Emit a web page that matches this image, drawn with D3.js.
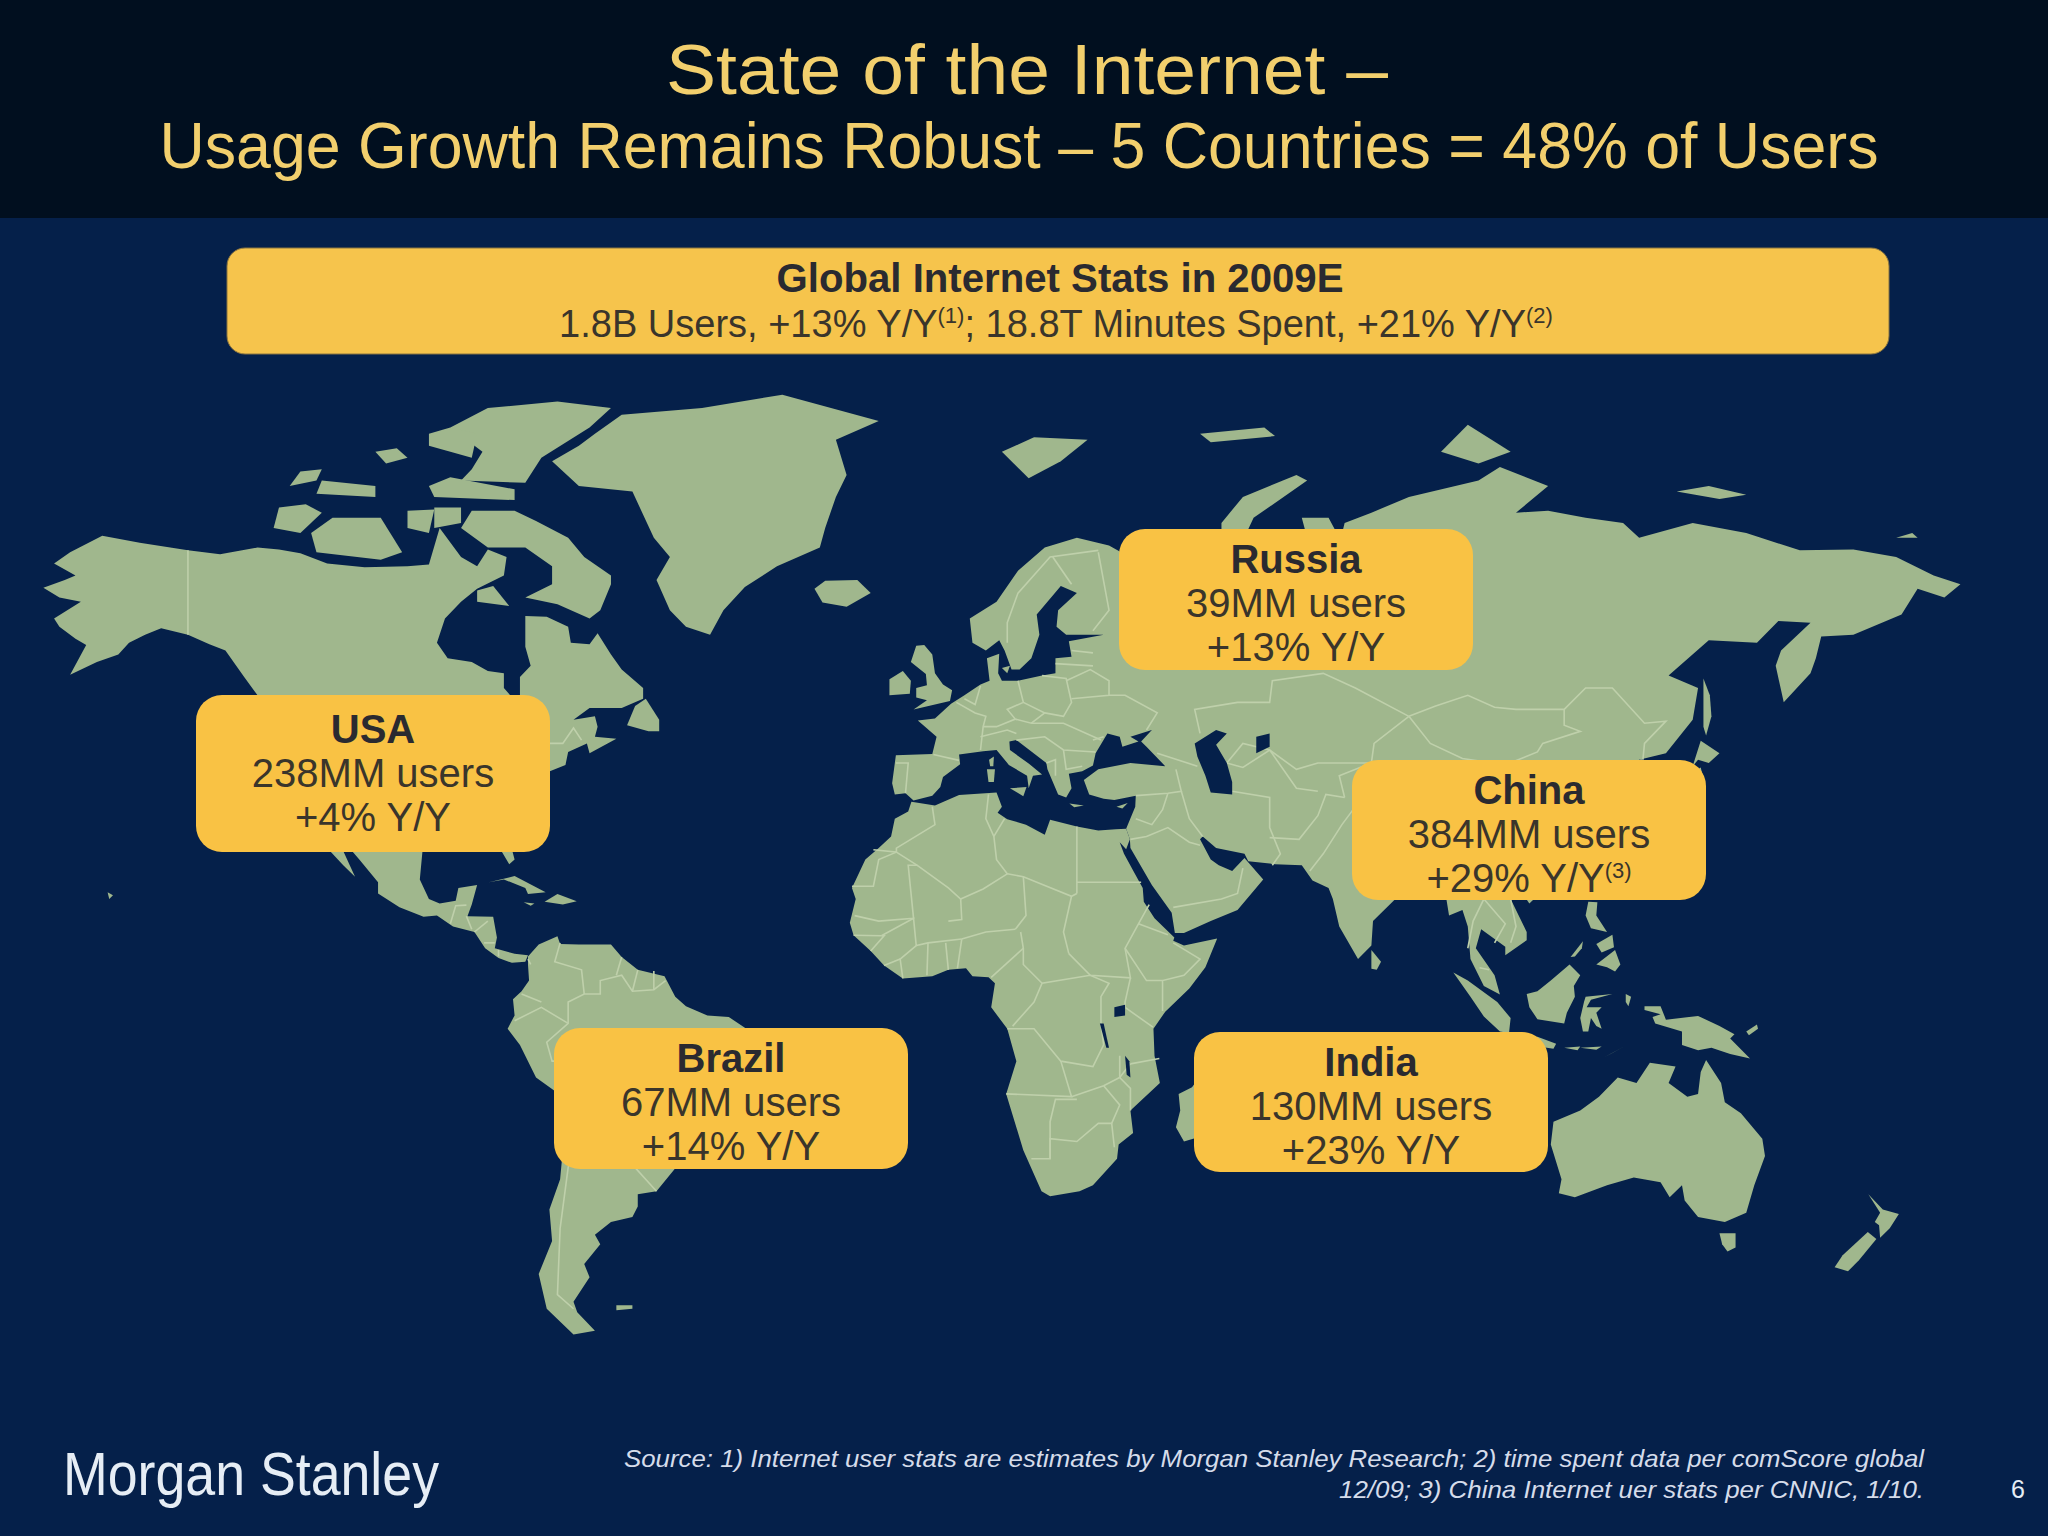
<!DOCTYPE html>
<html>
<head>
<meta charset="utf-8">
<script src="https://cdn.jsdelivr.net/npm/d3@7"></script>
<style>
html, body { margin: 0; padding: 0; background: #05204a; }
svg { display: block; }
text { font-family: "Liberation Sans", Arial, sans-serif; }
</style>
</head>
<body>
<svg id="chart" width="2048" height="1536"></svg>
<script>
// callout values
var boxNames = ["USA", "Russia", "China", "Brazil", "India"];
var boxUsers = ["238MM users", "39MM users", "384MM users", "67MM users", "130MM users"];
var boxGrowth = ["+4% Y/Y", "+13% Y/Y", "+29% Y/Y", "+14% Y/Y", "+23% Y/Y"];
var boxNotes = ["", "", "(3)", "", ""];

// coastlines, lon/lat
var northAmerica = [[-168,65.6],[-164,66.5],[-162,67],[-166,68.3],[-163,69.5],[-157,71.2],[-150,70.5],[-141,69.7],[-135,69.3],[-128,70],[-124,69.8],[-120,69.4],[-115,68.3],[-108,67.9],[-100,68],[-96,68.2],[-94,72],[-90,69],[-87,68],[-85,69.8],[-81.5,69],[-82,67],[-87,65.5],[-90,64],[-93,62],[-94.5,59],[-92.5,57],[-88,56.5],[-85,55.3],[-82,55],[-82,53],[-80,51.3],[-79,52],[-79,54.5],[-77,56],[-78,58.5],[-78,62.3],[-74,62.2],[-70,61],[-69.5,59],[-66,58.8],[-64.5,60.2],[-62,57.5],[-60,55.5],[-56,53],[-56,51.5],[-60,50.2],[-66,50.2],[-69,48.5],[-65,49],[-64.5,47.5],[-65,46],[-61,45.7],[-66,43.5],[-66.5,45],[-70,43.7],[-70.5,41.7],[-74,40.5],[-75.5,38],[-76,35],[-78,33.8],[-81,32],[-81,29.5],[-80,26],[-81,25.2],[-82.8,28],[-84,30],[-88,30.3],[-90,29.2],[-94,29.5],[-97.2,27.5],[-97.7,22.5],[-96,19],[-94,18.2],[-91,18.7],[-90.5,21],[-87,21.5],[-88,18],[-88.8,15.9],[-84,15.8],[-83.3,12],[-83.7,10],[-80,9],[-77.5,8.7],[-78,7.5],[-80.5,7.3],[-83,8.2],[-85.5,10],[-87.5,13],[-91.5,14],[-94.5,16],[-97,15.8],[-101.5,17.5],[-105.5,20],[-105.5,22],[-109,26],[-112.7,30],[-114.7,31.5],[-112,27.5],[-109.8,23],[-112,25],[-115,28],[-117.2,32.5],[-120.5,34.5],[-122.5,37.5],[-124.2,40.5],[-124,46],[-124.7,48.4],[-122.5,48.5],[-125,50],[-128,52],[-130.5,54.5],[-134,58],[-137,58.8],[-141,60],[-146,60.8],[-149,60],[-152,59],[-154,57.5],[-158,56.5],[-163,54.8],[-160,58.7],[-162,59.5],[-165,61],[-166,62],[-161,64],[-165,64.5]];
var canadaIslands = [
  [[-62,66],[-64,63],[-66,62],[-72,63.7],[-78,64.5],[-73,66],[-73,68],[-78,70],[-85,70],[-90,72],[-88,73.7],[-80,73.7],[-76,72.7],[-70,71],[-67,69],[-62,67]],
  [[-117,69.5],[-105,68.7],[-101,69.5],[-105,73],[-114,73],[-118,71.5]],
  [[-125,72],[-120,71.5],[-116,73.5],[-119,74.3],[-124,74]],
  [[-117,75.3],[-106,75],[-106,76],[-116,76.5]],
  [[-90,76.5],[-78,76.3],[-75,78.5],[-66,81],[-62,82.5],[-72,83],[-85,82.5],[-92,81],[-86,79],[-88,77.5]],
  [[-95,75],[-80,74.7],[-80,75.7],[-92,76.8],[-96,76]],
  [[-96,79.5],[-88,78.5],[-87,80.5],[-92,81],[-96,80.5]],
  [[-87,64],[-81,63.5],[-84,65.8],[-87,65.3]],
  [[-100,72],[-96,71.5],[-95,73.8],[-100,73.7]],
  [[-95,72],[-90,72.5],[-90,74],[-95,74]],
  [[-122,76],[-117,76.5],[-116,77.5],[-120,77.3]],
  [[-104,78],[-100,78.5],[-102,79.3],[-106,79]],
  [[-59,47.7],[-55,46.8],[-53,46.8],[-53,48.5],[-55.5,51.5],[-57.5,50.5]],
  [[-84.8,22],[-80,23.1],[-74.2,20.2],[-77.5,19.9],[-78,21],[-82,22.5]],
  [[-74.4,18.5],[-72,19.9],[-68.4,18.6],[-71,18]],
  [[-78.3,18.4],[-76.3,18.2],[-77,17.8]],
  [[-156,20.2],[-155,19.7],[-155.7,19]]
];
var greenland = [[-73,78.2],[-68,76],[-58,75.5],[-54,71],[-51,69],[-53.5,66.5],[-51,63],[-48,61],[-43.5,60],[-41,63],[-37,65.7],[-31,68],[-23,70],[-22,72],[-20,75],[-18,77],[-20,80],[-12,81.5],[-30,83.5],[-45,82.5],[-60,82],[-65,80.5],[-68,79.5]];
var southAmerica = [[-77.5,8.5],[-75.5,10.7],[-72,12.2],[-71.5,10.8],[-68,10.7],[-62,10.7],[-60,8.4],[-57,6],[-52,4.8],[-50,1],[-48,-0.8],[-44,-2.5],[-40,-2.8],[-37,-4.8],[-35,-7],[-35.5,-9.5],[-39,-13],[-39,-18],[-41,-22],[-45,-23.5],[-48.5,-26],[-49,-29],[-53.5,-34],[-57,-34.5],[-57,-36.5],[-58,-38.2],[-62,-39],[-65,-41],[-64,-42.5],[-67,-45.5],[-66,-47.5],[-69,-51],[-68.3,-52.5],[-65,-55],[-69,-55.5],[-74,-52],[-75.5,-47],[-73,-42],[-73.5,-37],[-71.5,-32],[-70.3,-20],[-71,-17.5],[-76,-14],[-79,-8],[-81.3,-5],[-80,-2.5],[-80.3,0.5],[-78.7,2],[-77.3,4],[-77.5,7]];
var falklands = [[-61,-51.5],[-58,-51.5],[-58,-52],[-61,-52.2]];
var eurasia = [[-9,37],[-9.5,38.8],[-8.8,43.2],[-2,43.4],[-1.2,46],[-4.7,48.4],[-1.5,48.7],[1.5,50.8],[4,52],[7,53.5],[8.7,54],[8.2,57],[10.5,57.6],[10.3,55],[11,54],[14,54],[18.5,54.7],[21,55],[21,57],[24,57.2],[23.5,59.2],[30,60],[23,60],[21.2,61],[21.5,63],[25,65],[22,65.8],[17.5,62.5],[18,60],[16.5,57],[14.3,55.5],[12.8,55.5],[11.5,58],[10.5,59.3],[8,58],[5.5,59],[5,62],[10,64],[14,67.5],[19,70],[25,71],[31,70.2],[41,67],[40,66],[35,66.5],[33,66.7],[35,64.3],[37,64],[40,65.5],[44,66],[44,68],[46,68],[53,68.5],[60,69],[66,69],[68,71],[67,73],[72,73],[74,71],[73,68],[75,72.5],[80,73.5],[87,75],[100,76.5],[104,77.7],[113,76],[107,73.5],[113,73.7],[120,73],[127,72.5],[130,71],[140,72.5],[150,71.5],[160,69.7],[170,69.8],[178,69],[185,67],[190,66],[187,64.5],[182,65.5],[179,62.5],[170,60],[164,59.8],[163,57],[162,55],[157,51],[155.5,56],[156.5,58],[162,61.5],[156,61.7],[152,59],[143,59.3],[135.5,54.7],[141,53],[140,48.5],[135,43.5],[130,42.5],[127.5,39.8],[129.5,36],[126.5,34.5],[126.5,37.5],[125,39.6],[121.5,39],[122,40.7],[118,39],[119,37.3],[122.5,37],[119.5,35],[122,31],[120,26],[116,23],[110.5,21.3],[108,21.6],[106,19],[109,13],[109,11.5],[105,8.7],[105,10.3],[100.5,13.5],[99.5,10],[103,5],[104,1.4],[101,3],[98.5,8],[98,14],[97,17],[94.5,16],[94,19],[91.5,22.5],[88,21.7],[85,19.5],[80.3,15],[80,10.5],[77.5,8],[74,14],[72.8,19],[72,21],[69,22.3],[67,25],[62,25.2],[57,25.7],[56.3,27],[51,28],[48.5,30],[48,29.5],[50,26],[51.5,25],[54,24],[56.3,26.3],[59.8,22.5],[55,17],[50,15],[45,12.8],[43.3,12.8],[42.7,16.5],[39,21.5],[35,28],[34.9,29.5],[34.2,31.3],[35.9,35],[36,36.8],[32,36.1],[30,36.3],[27.3,37],[26.3,39.3],[29,41],[35,42],[41.5,41.5],[38,44.5],[37,45.3],[39,47],[35,46],[36.5,45.3],[33.5,44.5],[33,46],[30.7,46.5],[28.5,43.5],[28,41.6],[26,40.7],[23.5,40.3],[24,38],[23,36.5],[21.5,37],[19.5,41],[19.3,42],[13.7,45.5],[12.4,45.3],[12.5,44],[16,41.9],[18.5,40.2],[16.8,40],[16,38],[15.7,40],[12.3,41.7],[10,44],[7.5,43.8],[3,43.3],[3.2,41.8],[0,39.8],[-0.5,38.2],[-2,36.8],[-5.5,36],[-7,37.2]];
var africa = [[-5.9,35.8],[-1.5,35.2],[3,36.9],[10,37.3],[11,35],[10.2,34],[12,32.9],[15.5,32],[19,30.3],[20,32.8],[25,31.7],[29,31],[32.3,31.2],[34.2,31.3],[34.9,29.5],[34.2,27.8],[33,29],[33.8,27],[35.6,23.9],[37.3,21],[37.5,18.5],[39.5,15.5],[43.2,12],[43,11.4],[45,10.5],[51.2,11.8],[49,6.5],[46,2.5],[41.5,-1.8],[39.3,-5],[39.5,-10],[40.5,-15],[35,-20],[35.5,-24],[32.8,-26],[32.5,-28.5],[28,-33],[25.5,-34],[20,-34.8],[18.4,-34],[15,-27],[11.8,-17],[13.7,-11],[12,-5],[9,-1],[9.7,3.5],[8.5,4.6],[5.5,4.8],[4.3,6.3],[1,6],[-2,4.8],[-7.5,4.4],[-11,6.8],[-13.5,9.5],[-16.7,12.4],[-17.4,14.7],[-16.3,19],[-17,21],[-14.5,26],[-12,28],[-9.7,30],[-9,33],[-6.5,34.2]];
var australia = [[114,-22],[113.5,-26],[115.5,-32],[115,-34.3],[118,-35],[124,-33],[129,-31.7],[134,-32.5],[135.7,-35],[138,-33],[138.5,-35.5],[141,-38.2],[146,-39],[150,-37.5],[151.5,-33],[153.5,-28],[153,-25],[149,-20.5],[146,-18.5],[145.3,-15],[142.5,-10.8],[141.5,-13],[141,-17],[139,-17.5],[135.5,-15],[136.8,-12],[132,-11.3],[129.5,-15],[126,-14],[122.5,-17.5],[119,-20]];
var asiaIslands = [
  [[145,-40.8],[148,-40.8],[148,-43],[146.5,-43.6],[145.5,-42.5]],
  [[172.8,-34.5],[175.5,-37],[178.5,-37.7],[176.8,-40],[175,-41.5],[174.8,-39.5],[174,-39],[175,-37.5]],
  [[172.7,-40.6],[174.3,-41.7],[171,-45],[169,-46.6],[166.5,-46],[168,-44.2]],
  [[131,-0.8],[134,-0.8],[135,-3.3],[141,-2.6],[145,-4.5],[147.8,-6],[147,-6.8],[150.7,-10.5],[147,-9.7],[143.5,-8.5],[141,-9],[138,-8],[138,-5.5],[133,-4],[132.5,-2.8],[134,-2.3],[131,-1.5]],
  [[150,-5.5],[152,-4.2],[152.2,-5],[150.5,-6.2]],
  [[109,1.5],[111,2],[113.5,4],[117,7],[119,5],[117.8,3],[118,1],[116.5,-2],[116,-4],[111,-3.2],[109.5,-1]],
  [[95.3,5.5],[98,4],[103.5,0],[106,-3],[105.7,-5.8],[104,-5.5],[101,-2.7],[98.5,1]],
  [[105.3,-6.5],[108.5,-6.6],[111,-6.5],[114.5,-7.8],[114,-8.7],[108,-7.8]],
  [[120,1],[125,1.5],[121,0.4],[120.2,-1],[123,-1],[122,-2],[123,-5],[122,-4.5],[121,-3],[120.5,-5.5],[119.5,-5.5],[119,-3],[119.7,0]],
  [[123.5,-10.3],[127,-8.4],[125,-9.5]],
  [[119,-8.5],[123,-8.3],[122,-8.9]],
  [[116,-8.5],[119,-8.3],[118.5,-9]],
  [[127.5,1.5],[128.5,1],[128,-0.8],[127.5,0]],
  [[120.5,18.5],[122.2,18.4],[122,16],[124,13],[121,13.7],[120,16]],
  [[122,7],[125.5,9.7],[126.5,7],[125.5,5.7],[124,6.5]],
  [[122,10.8],[125,12.5],[125.3,10.2],[123,9.2]],
  [[117.2,8.4],[119.5,11.3],[119.3,10],[118,8.5]],
  [[121,25.2],[122,25],[120.8,22],[120.1,23]],
  [[108.7,19.3],[110,20.1],[111,19.6],[109.5,18.2]],
  [[130.9,34],[135,35.7],[137,37],[139.5,38.5],[140,40.5],[141.5,41.3],[142,39.5],[141,37],[140.8,35.5],[137,34.6],[135.7,33.5],[132.5,34]],
  [[130,33.5],[131.8,33.5],[131,31.2],[130.2,31.3]],
  [[140,41.5],[141.5,45.4],[145,43.5],[143,42],[141,42.5]],
  [[142,54.3],[143.2,52],[143.5,49],[142.5,46.2],[142,47.5],[142,52]],
  [[80,9.7],[81.8,7.5],[81,6],[80,6.2]],
  [[49.3,-12],[50.4,-15.5],[47.5,-24.8],[45,-25.5],[43.5,-23],[44.3,-20],[44,-17],[46.5,-15.8]]
];
var northIslands = [
  [[-24,65.5],[-22,66.4],[-16,66.5],[-13.5,65],[-18,63.4],[-22.5,63.9]],
  [[11,79],[16,76.7],[22,78.2],[27,80],[17,80.2]],
  [[48,80.5],[60,81],[62,80.3],[50,79.8]],
  [[52,71],[56,70.7],[58,73],[68,76.5],[66,77],[56,75],[52,72.5]],
  [[93,79],[100,78],[106,79],[98,81.2]],
  [[137,75.5],[145,74.8],[150,75.2],[143,76]],
  [[178,71],[182,71],[181,71.5]]
];
var europeIslands = [
  [[-5.5,50],[1.3,51.2],[1.7,52.7],[0,53.5],[-1.5,55],[-2,57.5],[-3.5,58.7],[-5,58.6],[-6,56.5],[-3.2,54.9],[-3,53.4],[-5,53],[-5,51.7],[-3,51.3]],
  [[-10,52],[-6.2,52.2],[-6,54],[-7.5,55.3],[-10,54.2]],
  [[12.5,38],[15.6,38.2],[15,36.7]],
  [[8.2,41],[9.7,41],[9.5,39],[8.5,39]],
  [[8.6,42.5],[9.5,43],[9.4,41.5],[8.8,41.5]],
  [[23.6,35.5],[26.3,35.2],[24.5,34.9]],
  [[32.4,35],[34.5,35.6],[33.5,34.7]],
  [[11,55.7],[12.5,56],[12,55]]
];
var lakes = [
  [[47,45],[51,47],[53,46.5],[51,44.8],[53,42],[54,39],[54,37],[50,37.3],[49,40],[47.5,43]],
  [[58.5,46],[61,46.5],[61,44.5],[58.5,43.5]],
  [[32,-1],[34,-0.5],[34,-2.5],[32,-2.8]],
  [[29.3,-4],[30,-4],[31,-8.5],[30.5,-8.5]],
  [[34,-10],[34.8,-11],[35,-14],[34.3,-13.5]]
];
// country borders, lon/lat
var borders = [
  [[-141,69.7],[-141,60]],
  [[-123,49],[-95,49],[-89,48],[-83,46],[-82.5,42.5],[-79,43],[-75,45],[-71,45],[-69,47.3],[-67.5,45.5]],
  [[-92,14.5],[-91,17.8],[-89,17.9]],[[-89,15.9],[-88,13.5]],[[-85,15],[-87.5,13]],[[-83.7,11],[-85.7,11]],[[-83,8.5],[-83,9.7]],[[-77.5,8],[-77,7]],
  [[-71.5,11],[-72.5,7.5],[-67.5,6],[-67,1.5]],[[-60,8.4],[-61,5]],[[-57,6],[-58,2]],[[-54,5.8],[-54,2.3]],
  [[-51.8,4],[-54,2.3],[-58,2],[-60,5],[-64,4],[-64,1.5],[-67,1.5],[-70,0],[-70,-4],[-74,-7.5],[-73,-11],[-69.5,-11],[-65,-10],[-60,-14],[-58,-16.5],[-58,-20],[-54.5,-25.5],[-57.5,-30],[-53.5,-34]],
  [[-80,-3.5],[-75,-1],[-70,-4]],[[-78.7,1.5],[-75,0]],[[-70.3,-18],[-69,-15],[-69.5,-11]],
  [[-68,-23],[-70,-30],[-71.5,-40],[-72,-50],[-69,-52]],[[-70.3,-18],[-68,-23],[-62.5,-22],[-58,-20]],[[-62.5,-22],[-58,-27],[-54.5,-25.5]],
  [[-2,35],[-1.5,32],[-8.7,28],[-8.7,27.3],[-13,27.7]],[[-8.7,27.3],[-12,26],[-13,21.3],[-17,21.3]],
  [[-8.7,27.3],[-4.8,25],[1,21],[3.3,19],[7.5,20.8],[12,23.5],[10,26],[9.5,30],[8,33],[8.5,37]],
  [[-4.8,25],[-6.5,25],[-5.5,15.5],[-12,15],[-16.5,16]],[[25,31.7],[25,20]],[[12,23.5],[15,23],[24,19.5],[25,20]],[[9.5,30],[11.5,33]],[[25,22],[37,22]],
  [[15,23],[15.5,16],[13.5,13.5]],[[3.5,11.7],[8,13],[13.5,13.5]],[[3.3,19],[3.5,15.3],[1,15]],[[24,19.5],[22.5,13],[23.5,9]],
  [[23.5,9],[27.5,5],[35,4.5],[34,10],[36.5,14.5],[38.5,18]],[[43,11],[48,8],[45,5],[41,4],[41,-1.7]],[[36.5,14.5],[42,12.5]],[[34,10],[38,4],[41,4]],[[35,4.5],[34,0],[34,-1]],[[34,-1],[39.2,-4.7]],
  [[40.4,-10.5],[35,-11.5]],[[12,-5],[17,-5],[22,-11],[28,-12],[30,-8],[29.5,-4],[29.5,1],[31,3.5],[27.5,5],[18.5,3.5],[17,0],[13,-4.5]],
  [[18.5,3.5],[15,7],[15,10],[14.5,13]],[[15,10],[9,4.6]],[[2.7,6.3],[3.5,11.7]],[[11.8,-17],[24,-17.5],[22,-11]],[[24,-17.5],[30,-15.5],[33,-14],[33,-10]],
  [[20,-28.5],[20,-22],[21,-18],[25,-18]],[[16.5,-28.5],[20,-28.5],[20,-25],[25,-25.5],[29,-22.3],[31.5,-22.3],[32,-26.5]],[[31.5,-22.3],[33,-19],[30,-15.5]],[[35,-11.5],[33,-14],[35,-16],[35,-20]],
  [[-11.5,12.3],[-5.5,15.5],[-5,10.5],[-2.8,11],[3.5,11.7]],[[-7.5,4.4],[-8,8],[-5,10.5]],[[-3,5],[-2.8,11]],[[1,6],[0.5,11]],[[-13.5,9.5],[-11,12.3],[-11.5,12.3]],[[-11,6.8],[-8,8]],[[-16.7,12.4],[-11.5,12.3]],
  [[-1.8,43.3],[3,42.4]],[[-8.8,42],[-6.5,42],[-7,37.2]],[[2.5,51],[6,49.5],[8,49],[7.5,47.5],[7,44]],[[4,51.5],[6,50.7],[7,53.3]],[[14,54],[15,51],[12,50],[13.5,48.6],[10,47.5],[7.5,47.5]],[[7,46],[12,47],[13.7,46.5]],
  [[18.5,54.7],[23,54.3],[24,51],[22.5,49],[19,49.5],[15,51]],[[16.5,48],[22.5,48],[29.5,45.5]],[[13.7,45.5],[19,46],[22.5,44],[28.5,43.7]],[[22.5,44],[23,41],[26,41.5]],[[19.3,42],[21,42.5],[21,40]],[[13.5,48.6],[16.5,48],[19,49.5]],
  [[21,56.3],[28,56]],[[24,58],[28,57.7]],[[23,54],[27.5,55.5],[31,54],[31,52],[24,51.5]],[[31,52],[34,52],[40,49.5],[38,47]],[[28,45.5],[30,46]],
  [[28,60.5],[31,63],[29,69.5]],[[12,59],[12,61.5],[14,65],[20,69],[29,69.7]],[[24,66],[20.5,69]],
  [[48,46.5],[47,50],[55,51],[61,51],[61.5,54],[71,55],[77,53],[87,49]],[[87,49],[92,50.5],[98,52],[103,50.3],[107,50],[116,50],[120,53],[125,53],[131,48],[135,48.3],[131,45],[130.7,42.5]],
  [[87,49],[91,45],[97,42.7],[105,41.7],[111,43.7],[112,45],[119,46.8],[116,47.7],[116,50]],[[87,49],[80.5,45],[80,42],[74,40],[75,36.5]],
  [[40,43.5],[47.5,41.5]],[[36,36.8],[42,37.2],[44.5,37.5],[43.5,41]],[[44.5,37.5],[46,33],[48.5,30]],[[54,37.5],[61,36.5],[61,31.5],[63,27],[61.5,25]],[[61,29.8],[66.5,29.5],[70,33.5],[71.5,37],[75,36.5]],
  [[53,42],[56,41.3],[61,44],[66,38],[70,37.5]],[[53,42],[56,45],[61,44],[66,41],[70,42],[80,42]],[[35,29.5],[38,30],[42,31.5],[46,29],[48,28.5]],[[43,17.5],[52,19],[55,20],[56,24.5]],[[42,37.2],[41,34.5],[39,32],[36,33]],
  [[68.5,24],[71,27],[74.5,32],[77,35]],[[77,35],[79,31],[88,28],[97,28.5]],[[98,10],[99,15],[101,19],[105,14.5],[103,11]],[[106,19],[107,14],[106,11]],[[100.2,6.4],[102,6]],[[125,39.8],[128.5,38.5]],[[124.5,40],[130.5,42.5]]
];

var landRings = [northAmerica, greenland, southAmerica, falklands, eurasia, africa, australia]
  .concat(canadaIslands, asiaIslands, northIslands, europeIslands);

var svg = d3.select("#chart");
var width = 2048, height = 1536;

// Miller projection, fitted to the reference by eye
var pxPerDeg = 5.355;
var radiusPx = pxPerDeg * 180 / Math.PI;
function miller(lat) {
    var phi = lat * Math.PI / 180;
    return 1.25 * Math.log(Math.tan(Math.PI / 4 + 0.4 * phi));
}
var xScale = d3.scaleLinear().domain([-180, 180]).range([943 - 180 * pxPerDeg, 943 + 180 * pxPerDeg]);
var yScale = d3.scaleLinear().domain([-1, 1]).range([1002 + radiusPx, 1002 - radiusPx]);
var path = d3.geoPath(d3.geoTransform({
    point: function (lon, lat) {
        this.stream.point(xScale(lon), yScale(miller(lat)));
    }
}));
function ringFeature(ring) {
    return { type: "Polygon", coordinates: [ring.concat([ring[0]])] };
}
function lineFeature(line) {
    return { type: "LineString", coordinates: line };
}

svg.append("rect").attr("width", width).attr("height", height).attr("fill", "#05204a");
svg.append("rect").attr("width", width).attr("height", 218).attr("fill", "#010f1f");

svg.append("g").selectAll("path").data(landRings).enter().append("path")
    .attr("d", function (d) { return path(ringFeature(d)); })
    .attr("fill", "#a0b78d");
svg.append("g").selectAll("path").data(borders).enter().append("path")
    .attr("d", function (d) { return path(lineFeature(d)); })
    .attr("fill", "none")
    .attr("stroke", "#bfd0ab")
    .attr("stroke-width", 1.6);
svg.append("g").selectAll("path").data(lakes).enter().append("path")
    .attr("d", function (d) { return path(ringFeature(d)); })
    .attr("fill", "#05204a");

function addText(x, y, str, size, color, opts) {
    opts = opts || {};
    var t = svg.append("text")
        .attr("x", x).attr("y", y)
        .attr("font-size", size)
        .attr("fill", color)
        .attr("text-anchor", opts.anchor || "middle")
        .attr("font-weight", opts.weight || "normal")
        .attr("font-style", opts.style || "normal")
        .text(str);
    if (opts.length) {
        t.attr("textLength", opts.length).attr("lengthAdjust", "spacingAndGlyphs");
    }
    return t;
}

// header
addText(1027, 94, "State of the Internet \u2013", 71, "#f2cf6d", { length: 722 });
addText(1019, 168, "Usage Growth Remains Robust \u2013 5 Countries = 48% of Users", 64, "#f2cf6d", { length: 1719 });

// banner
svg.append("rect").attr("x", 227).attr("y", 248).attr("width", 1662).attr("height", 106).attr("rx", 18)
    .attr("fill", "#f6c44c").attr("stroke", "#8a7440").attr("stroke-width", 1);
addText(1060, 292, "Global Internet Stats in 2009E", 40, "#2a2a30", { weight: "bold", length: 567 });
var line2 = addText(1056, 337, "", 38, "#3a352b");
line2.append("tspan").text("1.8B Users, +13% Y/Y");
line2.append("tspan").attr("font-size", 22).attr("dy", -14).text("(1)");
line2.append("tspan").attr("dy", 14).text("; 18.8T Minutes Spent, +21% Y/Y");
line2.append("tspan").attr("font-size", 22).attr("dy", -14).text("(2)");

// callouts
var boxX = [196, 1119, 1352, 554, 1194];
var boxY = [695, 529, 760, 1028, 1032];
var boxH = [157, 141, 140, 141, 140];
boxNames.forEach(function (name, i) {
    var cx = boxX[i] + 177, top = boxY[i];
    svg.append("rect").attr("x", boxX[i]).attr("y", top).attr("width", 354).attr("height", boxH[i]).attr("rx", 26)
        .attr("fill", "#f9c244");
    var pad = boxH[i] > 150 ? 48 : 44;
    addText(cx, top + pad, name, 40, "#2a2a30", { weight: "bold" });
    addText(cx, top + pad + 44, boxUsers[i], 40, "#3a352b");
    var g = addText(cx, top + pad + 88, "", 40, "#3a352b");
    g.append("tspan").text(boxGrowth[i]);
    if (boxNotes[i]) {
        g.append("tspan").attr("font-size", 22).attr("dy", -14).text(boxNotes[i]);
    }
});

// footer
addText(63, 1495, "Morgan Stanley", 62, "#e6edf5", { anchor: "start", length: 376 });
addText(1924, 1467, "Source: 1) Internet user stats are estimates by Morgan Stanley Research; 2) time spent data per comScore global", 24, "#d5dcea",
    { anchor: "end", style: "italic", length: 1300 });
addText(1924, 1498, "12/09; 3) China Internet uer stats per CNNIC, 1/10.", 24, "#d5dcea",
    { anchor: "end", style: "italic", length: 585 });
addText(2018, 1498, "6", 25, "#e6edf5");
</script>
</body>
</html>
